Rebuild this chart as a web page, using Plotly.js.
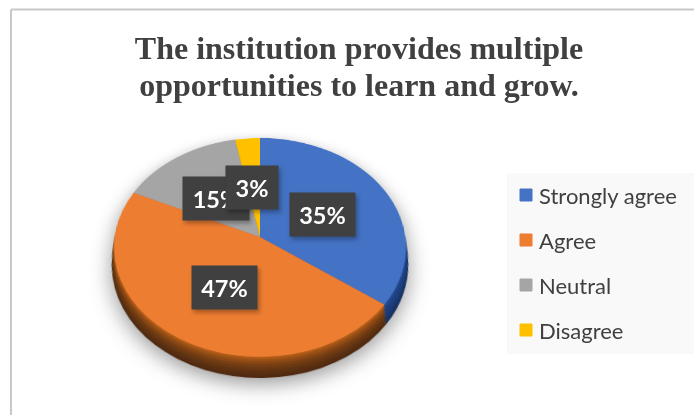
<!DOCTYPE html>
<html>
<head>
<meta charset="utf-8">
<script src="https://cdn.plot.ly/plotly-3.0.1.min.js"></script>
<style>
html,body{margin:0;padding:0;background:#fff;overflow:hidden}
#chart{width:694px;height:415px}
.annotation{filter:drop-shadow(2px 3px 2px rgba(0,0,0,.3))}
</style>
</head>
<body>
<div id="chart"></div>
<script>
var categories = ["Strongly agree", "Agree", "Neutral", "Disagree"];
var percents = [35, 47, 15, 3];
var faceColors = ["#4472C4", "#ED7D31", "#A5A5A5", "#FFC000"];
var sideBlues = ["#16305e", "#183468", "#1a3870", "#1c3c76", "#1e3f7c", "#204282", "#224688", "#244a8e"];
var sideOranges = ["#4f2a10", "#572e11", "#5f3312", "#6a3812", "#763e13", "#884714", "#9a5015", "#ad5a18"];
var sideGreys = ["#555555", "#5a5a5a", "#5f5f5f", "#636363", "#666666", "#6a6a6a", "#6e6e6e", "#727272"];
var sideGolds = ["#7a5c00", "#7f6000", "#846400", "#876700", "#8a6a00", "#8e6d00", "#927000", "#967300"];
var sideDrops = [22.7, 20, 17, 14, 11, 8, 5, 2.5];
var labelX = [322, 224.5, 216, 252];
var labelY = [214, 287, 198.5, 187.5];
var labelW = [63, 63, 64, 50];
var titleLines = ["The institution provides multiple", "opportunities to learn and grow."];

var W = 694, H = 415, CX = 260, CY = 237, R = 145.3;

function pieTrace(colors, drop, legend) {
  return {
    type: "pie", labels: categories, values: percents, sort: false,
    direction: "clockwise", rotation: 0, textinfo: "none", hoverinfo: "skip",
    showlegend: legend,
    marker: {colors: colors, line: {width: 0}},
    domain: {
      x: [(CX - R) / W, (CX + R) / W],
      y: [1 - (CY + R + drop) / H, 1 - (CY - R + drop) / H]
    }
  };
}
var traces = sideDrops.map(function (d, i) {
  return pieTrace([sideBlues[i], sideOranges[i], sideGreys[i], sideGolds[i]], d, false);
});
traces.push(pieTrace(faceColors, 0, true));

var annotations = percents.map(function (p, i) {
  return {
    xref: "paper", yref: "paper", x: labelX[i] / W, y: 1 - labelY[i] / H,
    xanchor: "center", yanchor: "middle", showarrow: false,
    text: "<b>" + p + "%</b>", width: labelW[i], height: 41, align: "center",
    bgcolor: "#404040", font: {family: "Lato, 'Open Sans', sans-serif", size: 23.5, color: "#fff"}
  };
});

var layout = {
  width: W, height: H, margin: {l: 0, r: 0, t: 0, b: 0},
  paper_bgcolor: "rgba(0,0,0,0)", plot_bgcolor: "rgba(0,0,0,0)",
  title: {
    text: titleLines.map(function (s) { return "<b>" + s + "</b>"; }).join("<br>"),
    font: {family: "'Liberation Serif', serif", size: 32, color: "#404040"},
    x: 359 / W, xanchor: "center", y: 1 - 59 / H, yanchor: "middle"
  },
  showlegend: true,
  legend: {
    x: 506 / W, y: 1 - 173 / H, xanchor: "left", yanchor: "top",
    bgcolor: "rgba(0,0,0,0)", borderwidth: 0,
    font: {family: "Lato, 'Open Sans', sans-serif", size: 22, color: "#404040"}
  },
  annotations: annotations,
  shapes: [
    {type: "rect", layer: "above", xref: "paper", yref: "paper", x0: 507 / W, x1: 1, y0: 1 - 354 / H, y1: 1 - 173 / H, fillcolor: "#f9f9f9", line: {width: 0}},
    {type: "line", layer: "above", xref: "paper", yref: "paper", x0: 11 / W, x1: 1, y0: 1 - 9.5 / H, y1: 1 - 9.5 / H, line: {color: "#c8c8c8", width: 2}},
    {type: "line", layer: "above", xref: "paper", yref: "paper", x0: 11 / W, x1: 11 / W, y0: 0, y1: 1 - 9.5 / H, line: {color: "#c8c8c8", width: 2}}
  ]
};

Plotly.newPlot("chart", traces, layout, {displayModeBar: false, staticPlot: true}).then(function () {
  var svg = document.querySelectorAll("#chart .main-svg")[0];
  svg.style.transformOrigin = CX + "px " + CY + "px";
  svg.style.transform = "perspective(1009px) rotateX(41.7deg)";
  svg.style.overflow = "visible";
  var pl = svg.querySelector(".pielayer");
  if (pl) pl.style.filter = "drop-shadow(0 7px 10px rgba(0,0,0,.38))";
  // tighter line spacing of the two-line title
  var lines = document.querySelectorAll("#chart .gtitle tspan.line");
  if (lines.length > 1) lines[1].setAttribute("dy", "1.17em");
  // legend rows: 45px apart, swatch and text as in the reference
  var sb = document.querySelector("#chart .legend .scrollbox");
  if (sb) sb.removeAttribute("clip-path");
  var lg = document.querySelector("#chart .legend");
  if (lg) lg.removeAttribute("clip-path");
  document.querySelectorAll("#chart .legend .traces").forEach(function (t, i) {
    t.setAttribute("transform", "translate(0," + (22 + i * 45) + ")");
    var tx = t.querySelector(".legendtext");
    if (tx) tx.setAttribute("x", 33);
    var pt = t.querySelector(".legendpoints path");
    if (pt) { pt.style.stroke = faceColors[i]; pt.style.strokeWidth = "1px"; }
  });
});
</script>
</body>
</html>
